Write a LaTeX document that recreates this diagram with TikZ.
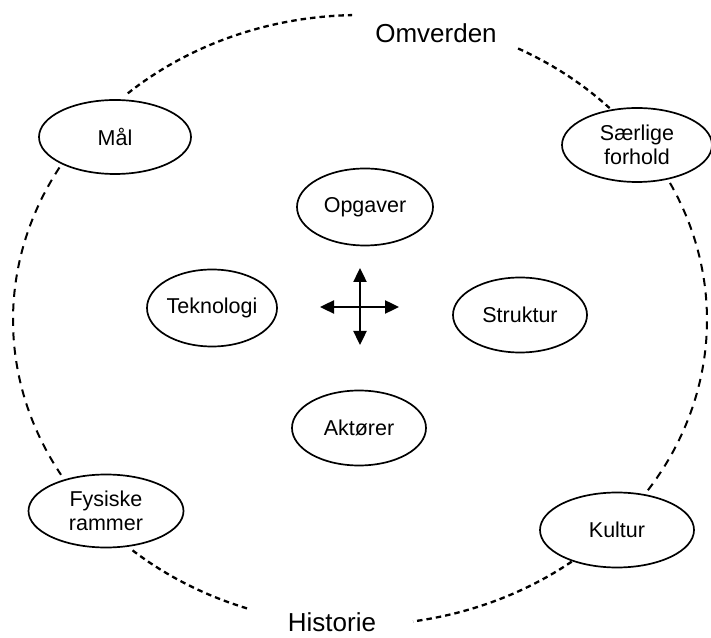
\documentclass[tikz,border=0pt]{standalone}
\usepackage{fontspec}
\setmainfont{Liberation Sans}
\usetikzlibrary{shapes.geometric,arrows.meta}
\begin{document}
\begin{tikzpicture}[x=1pt,y=1pt,
  oval/.style={draw,ellipse,line width=1.7pt,inner sep=0pt,align=center,
    font=\fontsize{21.5}{24}\selectfont},
  outerlabel/.style={inner sep=0pt,font=\fontsize{26}{30}\selectfont},
  outer/.style={line width=2.3pt,dash pattern=on 5.5pt off 4pt},
  outerlong/.style={line width=2pt,dash pattern=on 8pt off 6.5pt},
  cross/.style={line width=2.4pt,{Triangle[length=14pt,width=13pt]}-{Triangle[length=14pt,width=13pt]}}]
\useasboundingbox (0,0) rectangle (711,637);
\coordinate (C) at (360,317);
% nodes
\node[oval,minimum width=152pt,minimum height=74pt] (mal) at (115,500) {Mål};
\node[oval,minimum width=150pt,minimum height=74pt] (saer) at (637,492) {Særlige\\forhold};
\node[oval,minimum width=136pt,minimum height=77pt] (opg) at (365,430) {Opgaver};
\node[oval,minimum width=130pt,minimum height=77pt] (tek) at (212,329) {Teknologi};
\node[oval,minimum width=134pt,minimum height=75pt] (str) at (520,322) {Struktur};
\node[oval,minimum width=134pt,minimum height=75pt] (akt) at (359,209) {Aktører};
\node[oval,minimum width=155pt,minimum height=73pt] (fys) at (106,126) {Fysiske\\rammer};
\node[oval,minimum width=154pt,minimum height=75pt] (kul) at (617,107) {Kultur};
\node[outerlabel] (omv) at (436,604) {Omverden};
\node[outerlabel] (his) at (332,15) {Historie};
% central cross
\coordinate (up) at (360,369);
\coordinate (down) at (360,292);
\coordinate (left) at (320,330);
\coordinate (right) at (399,330);
\draw[cross] (down) -- (up);
\draw[cross] (left) -- (right);
% outer dashed ellipse arcs
\draw[outer] (C) ++(132:347 and 305) arc[start angle=132,end angle=91.3,x radius=347,y radius=305];
\draw[outer] (C) ++(62.9:347 and 305) arc[start angle=62.9,end angle=44,x radius=347,y radius=305];
\draw[outerlong] (C) ++(26.7:347 and 305) arc[start angle=26.7,end angle=-34,x radius=347,y radius=305];
\draw[outer] (C) ++(-52.4:347 and 305) arc[start angle=-52.4,end angle=-81.2,x radius=347,y radius=305];
\draw[outer] (C) ++(-109:347 and 305) arc[start angle=-109,end angle=-131,x radius=347,y radius=305];
\draw[outerlong] (C) ++(150:347 and 305) arc[start angle=150,end angle=210.5,x radius=347,y radius=305];
\end{tikzpicture}
\end{document}
